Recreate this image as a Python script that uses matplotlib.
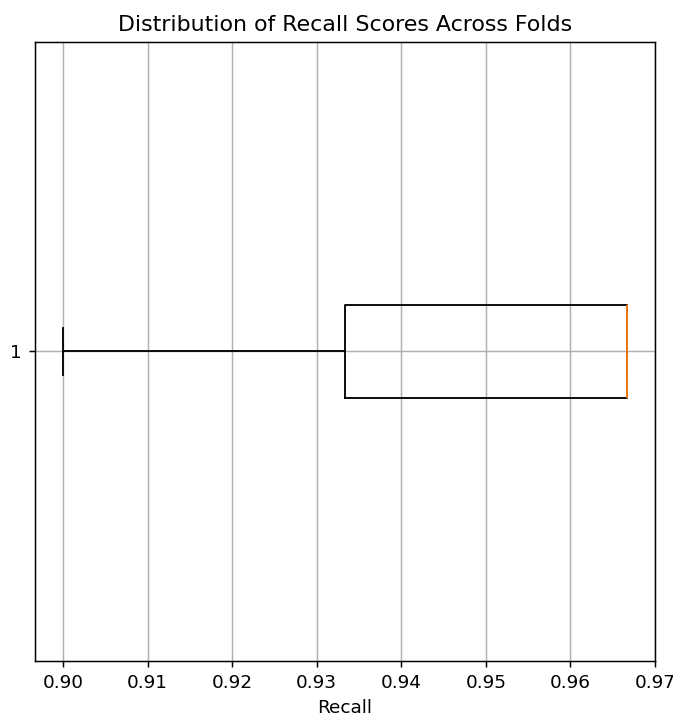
import numpy as np
import matplotlib
matplotlib.use("Agg")
import matplotlib.pyplot as plt

# recall per fold (5-fold CV)
recall_scores = [0.9, 0.9333333, 0.9666667, 0.9666667, 0.9666667]

DPI = 133
fig = plt.figure(figsize=(673 / DPI, 715 / DPI), dpi=DPI)
ax = fig.add_axes([0.052, 0.0755, 0.921, 0.866])
ax.boxplot(recall_scores, vert=False)  # horizontal box
ax.set_title('Distribution of Recall Scores Across Folds')
ax.set_xlabel('Recall')
ax.grid(True)
fig.savefig('out.png', dpi=DPI)
